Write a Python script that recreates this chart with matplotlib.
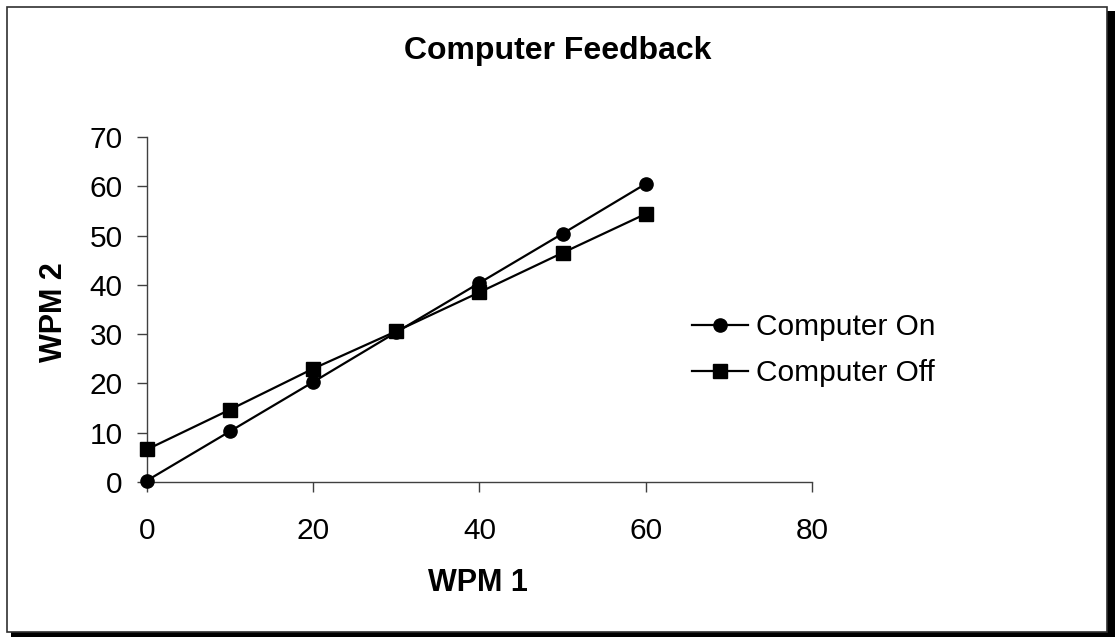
import matplotlib
matplotlib.use('Agg')
import matplotlib.pyplot as plt
import matplotlib.patches as mpatches

plt.rcParams['font.family'] = ['Liberation Sans', 'DejaVu Sans']

wpm1 = [0, 10, 20, 30, 40, 50, 60]
computerOn = [0.3, 10.3, 20.3, 30.4, 40.4, 50.4, 60.5]
computerOff = [6.6, 14.7, 23.0, 30.6, 38.5, 46.5, 54.4]
xTicks = [0, 20, 40, 60, 80]
yTicks = [0, 10, 20, 30, 40, 50, 60, 70]

W, H = 1115, 637
axisGrey = '#404040'

fig = plt.figure(figsize=(W / 100, H / 100), dpi=100)

# frame with the drop shadow on the right and bottom (behind the axes)
shadow = mpatches.Rectangle((11 / W, 0), (W - 11) / W, (H - 11) / H,
                            transform=fig.transFigure, facecolor='black',
                            edgecolor='none', zorder=-2)
frame = mpatches.Rectangle((7 / W, 5 / H), 1100 / W, 625 / H,
                           transform=fig.transFigure, facecolor='white',
                           edgecolor='#303030', linewidth=1.2, zorder=-1)
fig.patches.extend([shadow, frame])

ax = fig.add_axes([147 / W, 155 / H, 665 / W, 345 / H])
ax.set_facecolor('none')
ax.plot(wpm1, computerOn, color='black', linewidth=1.6, marker='o',
        markersize=9.5, label='Computer On', clip_on=False, zorder=3)
ax.plot(wpm1, computerOff, color='black', linewidth=1.6, marker='s',
        markersize=9.5, label='Computer Off', clip_on=False, zorder=3)

ax.set_xlim(0, 80)
ax.set_ylim(0, 70)
ax.set_xticks(xTicks)
ax.set_yticks(yTicks)
for side in ['top', 'right']:
    ax.spines[side].set_visible(False)
for side in ['left', 'bottom']:
    ax.spines[side].set_color(axisGrey)
    ax.spines[side].set_linewidth(1.0)
ax.tick_params(axis='both', direction='out', length=7, width=1.0,
               color=axisGrey, labelsize=21.5, labelcolor='black')
ax.tick_params(axis='x', pad=18)
ax.tick_params(axis='y', pad=10.5)

fig.text(0.5, 1 - 59 / H, 'Computer Feedback', ha='center', va='baseline',
         fontsize=23, fontweight='bold')
fig.text(478 / W, 1 - 591 / H, 'WPM 1', ha='center', va='baseline',
         fontsize=22, fontweight='bold')
fig.text(54 / W, 1 - 312 / H, 'WPM 2', ha='center', va='center',
         rotation=90, fontsize=22, fontweight='bold')

ax.legend(loc='center left', bbox_to_anchor=(692 / W, 1 - 350 / H),
          bbox_transform=fig.transFigure, frameon=False, fontsize=21.5,
          handlelength=1.87, handletextpad=0.27, labelspacing=0.6,
          borderpad=0, borderaxespad=0)

fig.savefig('out.png', dpi=100)
